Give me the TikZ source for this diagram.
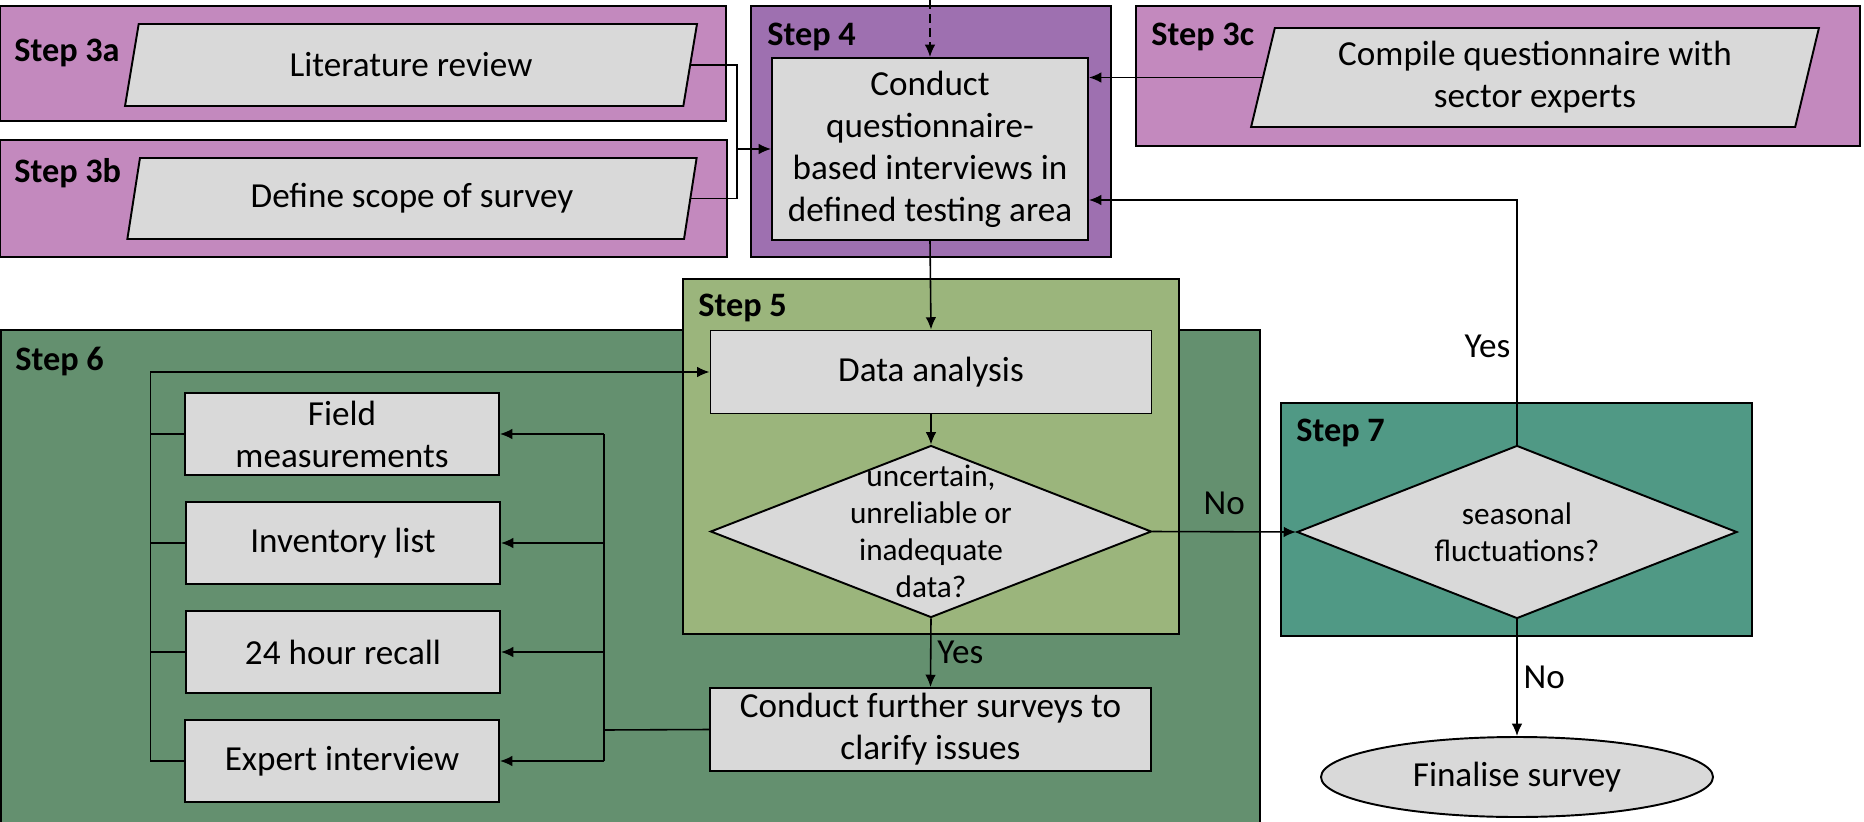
\documentclass[tikz,border=0pt]{standalone}
\usepackage{fontspec}
\setmainfont{Carlito}
\usetikzlibrary{shapes.geometric,arrows.meta}
\definecolor{stepthree}{HTML}{C389BE}
\definecolor{stepfour}{HTML}{9E70B0}
\definecolor{stepfive}{HTML}{9BB57C}
\definecolor{stepsix}{HTML}{64906F}
\definecolor{stepseven}{HTML}{509985}
\definecolor{boxgray}{HTML}{D9D9D9}
\newlength\pxl
\setlength\pxl{0.02cm}
\tikzset{
  stepframe/.style={draw=black,line width=1.1pt},
  steplabel/.style={anchor=west,inner sep=0pt,font=\bfseries\fontsize{19.5}{23}\selectfont},
  task/.style={draw=black,fill=boxgray,line width=1.1pt,align=center,inner sep=0pt,font=\fontsize{20}{23.9}\selectfont},
  inputbox/.style={task,trapezium,trapezium left angle=76,trapezium right angle=104,trapezium stretches=true},
  decision/.style={draw=black,fill=boxgray,line width=1.1pt,diamond,inner sep=0pt},
  question/.style={align=center,font=\fontsize{17.8}{21}\selectfont},
  answer/.style={font=\fontsize{20}{23.9}\selectfont},
  wire/.style={line width=0.9pt},
  link/.style={wire,-{Latex[length=7pt,width=6pt]}},
}
\begin{document}
\begin{tikzpicture}[x=0.02cm,y=-0.02cm]
  \clip (0,0) rectangle (1864,822);
%%% step frames
  \draw[stepframe,fill=stepthree] (0,6) rectangle (726,121);
  \node[steplabel] (lab3a) at (14,53) {Step 3a};
  \draw[stepframe,fill=stepthree] (0,140) rectangle (727,257);
  \node[steplabel] (lab3b) at (14,173) {Step 3b};
  \draw[stepframe,fill=stepfour] (751,6) rectangle (1111,257);
  \node[steplabel] (lab4) at (767,37) {Step 4};
  \draw[stepframe,fill=stepthree] (1136,6) rectangle (1860,146);
  \node[steplabel] (lab3c) at (1151,37) {Step 3c};
  \draw[stepframe,fill=stepsix] (1,330) rectangle (1260,840);
  \node[steplabel] (lab6) at (15,361) {Step 6};
  \draw[stepframe,fill=stepfive] (683,279) rectangle (1179,634);
  \node[steplabel] (lab5) at (698,308) {Step 5};
  \draw[stepframe,fill=stepseven] (1281,403) rectangle (1752,636);
  \node[steplabel] (lab7) at (1296,433) {Step 7};
%%% tasks
  \node[inputbox,minimum width=573\pxl,minimum height=82\pxl] (lit) at (411,65) {Literature review};
  \node[inputbox,minimum width=571\pxl,minimum height=81\pxl] (scope) at (412,198.5) {Define scope of survey};
  \node[inputbox,minimum width=570\pxl,minimum height=99\pxl] (compile) at (1535,77.5) {Compile questionnaire with\\sector experts};
  \node[task,minimum width=316\pxl,minimum height=182\pxl] (conduct) at (930,149) {Conduct\\questionnaire-\\based interviews in\\defined testing area};
  \node[task,minimum width=441\pxl,minimum height=83\pxl] (data) at (931,372) {Data analysis};
  \node[decision,minimum width=441\pxl,minimum height=172\pxl,label={[question]center:uncertain,\\unreliable or\\inadequate\\data?}] (unc) at (931,531.5) {};
  \node[task,minimum width=441\pxl,minimum height=83\pxl] (further) at (930.5,729.5) {Conduct further surveys to\\clarify issues};
  \node[task,minimum width=314\pxl,minimum height=82\pxl] (field) at (342,434) {Field\\measurements};
  \node[task,minimum width=314\pxl,minimum height=82\pxl] (inv) at (343,543) {Inventory list};
  \node[task,minimum width=314\pxl,minimum height=82\pxl] (recall) at (343,652) {24 hour recall};
  \node[task,minimum width=314\pxl,minimum height=82\pxl] (expert) at (342,761) {Expert interview};
  \node[decision,minimum width=440\pxl,minimum height=173\pxl,label={[question]center:seasonal\\fluctuations?}] (seas) at (1517,532) {};
  \node[task,ellipse,minimum width=392\pxl,minimum height=80\pxl] (fin) at (1517,777) {Finalise survey};
%%% connectors
  \coordinate (entry) at (930,0);
  \draw[link,dash pattern=on 5pt off 3pt] (entry) -- (conduct.north);
  \coordinate (merge) at (737,149);
  \draw[wire] (lit.east) -| (merge);
  \draw[wire] (scope.east) -| (merge);
  \draw[link] (merge) -- (conduct.west);
  \draw[link] (compile.west) -- (compile.west -| conduct.east);
  \draw[link] (conduct.south) -- (data.north);
  \draw[link] (data.south) -- (unc.north);
  \draw[link] (unc.south) -- node[midway,right,answer] {Yes} (further.north);
  \draw[link] (unc.east) -- node[midway,above=6pt,answer] {No} (seas.west);
  \draw[link] (seas.north) |- node[pos=0.2,left,answer] {Yes} ([yshift=-1.02cm]conduct.east);
  \draw[link] (seas.south) -- node[midway,right,answer] {No} (fin.north);
%%% step 6 loop
  \coordinate (fan) at (604,730);
  \draw[wire] (further.west) -- (fan);
  \draw[wire] (fan |- field.east) -- (fan |- expert.east);
  \foreach \b in {field,inv,recall,expert}
    \draw[link] (fan |- \b.east) -- (\b.east);
  \coordinate (back) at (150.6,372);
  \foreach \b in {field,inv,recall}
    \draw[wire] (\b.west) -- (\b.west -| back);
  \draw[link] (expert.west) -| (back) -- (data.west);
\end{tikzpicture}
\end{document}
